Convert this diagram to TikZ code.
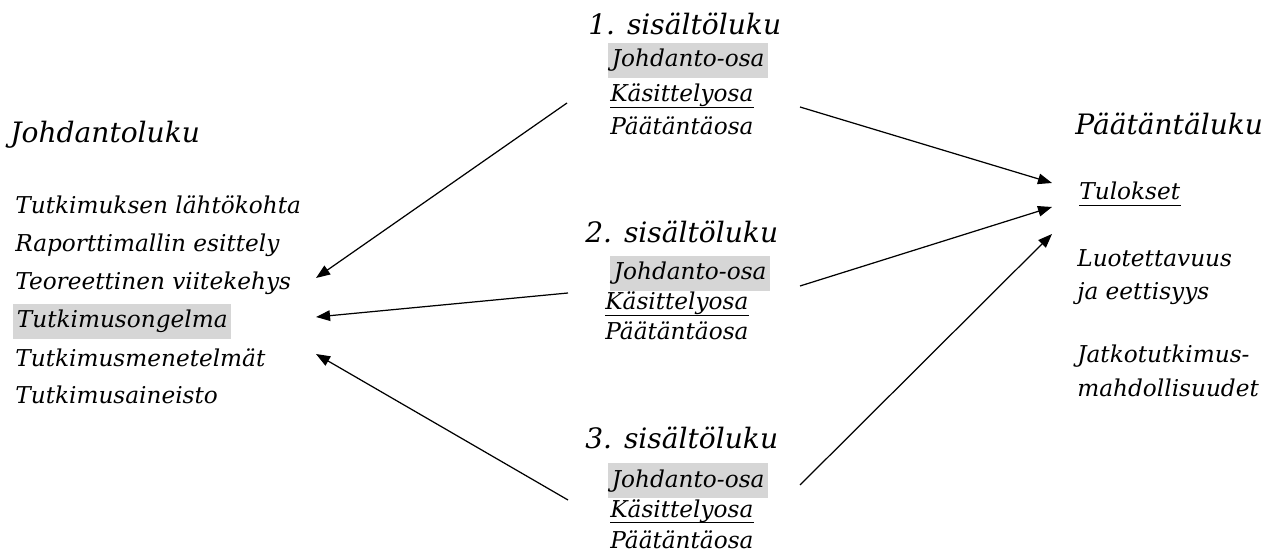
\documentclass[tikz,border=0pt]{standalone}
\usepackage{fontspec}
\setmainfont{DejaVu Serif}
\usetikzlibrary{arrows.meta}

\begin{document}
\begin{tikzpicture}[x=0.02cm,y=-0.02cm,
    txt/.style={anchor=base west,inner sep=0pt,font=\itshape\fontsize{13.2}{15}\selectfont},
    head/.style={anchor=base west,inner sep=0pt,font=\itshape\fontsize{16}{19}\selectfont},
    hl/.style={txt,fill=black!16,inner xsep=2pt,inner ysep=3.5pt},
    uline/.style={line width=0.8pt},
    link/.style={line width=0.7pt,-{Triangle[length=8pt,width=6pt]}}]
  \useasboundingbox (0,0) rectangle (1277,553);

  % johdantoluku
  \node[head] (jl) at (10,143) {Johdantoluku};
  \node[txt] (j1) at (15,214) {Tutkimuksen lähtökohta};
  \node[txt] (j2) at (15,252) {Raporttimallin esittely};
  \node[txt] (j3) at (15,290) {Teoreettinen viitekehys};
  \node[hl] (j4) at (13,328) {Tutkimusongelma};
  \node[txt] (j5) at (15,367) {Tutkimusmenetelmät};
  \node[txt] (j6) at (15,404) {Tutkimusaineisto};

  % sisältöluvut
  \node[head] (s1) at (588,35) {1. sisältöluku};
  \node[hl] (s1a) at (608,67) {Johdanto-osa};
  \node[txt] (s1b) at (610,102) {Käsittelyosa};
  \node[txt] (s1c) at (610,135) {Päätäntäosa};

  \node[head] (s2) at (585,243) {2. sisältöluku};
  \node[hl] (s2a) at (610,280) {Johdanto-osa};
  \node[txt] (s2b) at (605,310) {Käsittelyosa};
  \node[txt] (s2c) at (605,340) {Päätäntäosa};

  \node[head] (s3) at (585,448) {3. sisältöluku};
  \node[hl] (s3a) at (608,487) {Johdanto-osa};
  \node[txt] (s3b) at (610,517) {Käsittelyosa};
  \node[txt] (s3c) at (610,548) {Päätäntäosa};

  % päätäntäluku
  \node[head] (pl) at (1075,135) {Päätäntäluku};
  \node[txt] (p1) at (1079,200) {Tulokset};
  \node[txt] (p2) at (1077,267) {Luotettavuus};
  \node[txt] (p3) at (1077,300) {ja eettisyys};
  \node[txt] (p4) at (1077,363) {Jatkotutkimus-};
  \node[txt] (p5) at (1077,397) {mahdollisuudet};

  % alleviivaukset
  \foreach \n in {s1b,s2b,s3b,p1}
    \draw[uline] ([yshift=-3pt]\n.base west) -- ([yshift=-3pt]\n.base east);

  % nuolet
  \coordinate (a1) at (567,103);  \coordinate (t1) at (316,278);
  \coordinate (a2) at (568,293);  \coordinate (t2) at (316,317);
  \coordinate (a3) at (568,500);  \coordinate (t3) at (316,354);
  \coordinate (b1) at (800,107);  \coordinate (u1) at (1052,183);
  \coordinate (b2) at (800,286);  \coordinate (u2) at (1052,207);
  \coordinate (b3) at (800,485);  \coordinate (u3) at (1052,234);
  \draw[link] (a1) -- (t1);
  \draw[link] (a2) -- (t2);
  \draw[link] (a3) -- (t3);
  \draw[link] (b1) -- (u1);
  \draw[link] (b2) -- (u2);
  \draw[link] (b3) -- (u3);
\end{tikzpicture}
\end{document}
